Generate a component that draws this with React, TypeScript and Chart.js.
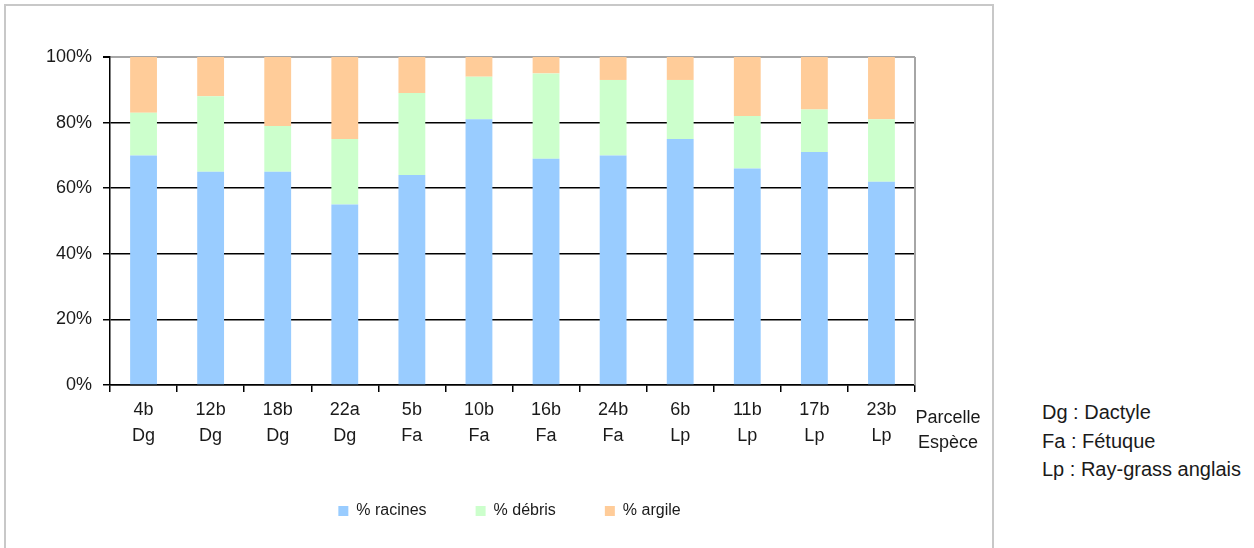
import React, { useEffect, useRef } from "react";
import { Chart, registerables } from "chart.js";

Chart.register(...registerables);

const parcelles = ["4b", "12b", "18b", "22a", "5b", "10b", "16b", "24b", "6b", "11b", "17b", "23b"];
const especes = ["Dg", "Dg", "Dg", "Dg", "Fa", "Fa", "Fa", "Fa", "Lp", "Lp", "Lp", "Lp"];
const racines = [70, 65, 65, 55, 64, 81, 69, 70, 75, 66, 71, 62];
const debris = [13, 23, 14, 20, 25, 13, 26, 23, 18, 16, 13, 19];
const argile = [17, 12, 21, 25, 11, 6, 5, 7, 7, 18, 16, 19];
const yTicks = [0, 20, 40, 60, 80, 100];
const seriesNames = ["% racines", "% débris", "% argile"];
const axisTitle = ["Parcelle", "Espèce"];
const notes = ["Dg : Dactyle", "Fa : Fétuque", "Lp : Ray-grass anglais"];

const FONT = "'Liberation Sans', Arial, sans-serif";

export default function App() {
  const ref = useRef<HTMLCanvasElement>(null);

  useEffect(() => {
    if (!ref.current) return;
    const sidePlugin = {
      id: "side",
      afterLayout(chart: any) {
        if (chart.legend) {
          chart.legend.left += 52;
          chart.legend.right += 52;
        }
      },
      afterDraw(chart: any) {
        const { ctx, chartArea } = chart;
        ctx.save();
        ctx.strokeStyle = "#a6a6a6";
        ctx.lineWidth = 2;
        ctx.beginPath();
        ctx.moveTo(chartArea.right, chartArea.top);
        ctx.lineTo(chartArea.right, chartArea.bottom);
        ctx.stroke();
        ctx.fillStyle = "#1a1a1a";
        ctx.font = `18px ${FONT}`;
        ctx.textAlign = "center";
        ctx.textBaseline = "middle";
        ctx.fillText(axisTitle[0], chartArea.right + 33, chartArea.bottom + 33);
        ctx.fillText(axisTitle[1], chartArea.right + 33, chartArea.bottom + 58);
        ctx.restore();
      },
    };
    const chart = new Chart(ref.current, {
      type: "bar",
      data: {
        labels: parcelles.map((p, i) => [p, especes[i]]),
        datasets: [
          { label: seriesNames[0], data: racines, backgroundColor: "#99ccff" },
          { label: seriesNames[1], data: debris, backgroundColor: "#ccffcc" },
          { label: seriesNames[2], data: argile, backgroundColor: "#ffcc99" },
        ],
      },
      options: {
        responsive: false,
        animation: false,
        devicePixelRatio: 1,
        layout: { padding: { left: 0, right: 107, top: 57, bottom: 19 } },
        datasets: { bar: { barPercentage: 0.4, categoryPercentage: 1 } },
        plugins: {
          tooltip: { enabled: false },
          legend: {
            position: "bottom",
            labels: {
              boxWidth: 10,
              boxHeight: 10,
              padding: 49,
              color: "#1a1a1a",
              font: { family: FONT, size: 16 },
            },
          },
        },
        scales: {
          x: {
            stacked: true,
            afterFit: (s: any) => {
              s.height = 69;
            },
            grid: {
              drawOnChartArea: false,
              drawTicks: true,
              tickLength: 7,
              color: "#000",
              lineWidth: 1.5,
            },
            border: { color: "#000", width: 1.5 },
            ticks: {
              autoSkip: false,
              maxRotation: 0,
              padding: 5,
              color: "#1a1a1a",
              font: { family: FONT, size: 18, lineHeight: 1.45 },
            },
          },
          y: {
            stacked: true,
            min: 0,
            max: 100,
            afterFit: (s: any) => {
              s.width = 110;
            },
            afterBuildTicks: (s: any) => {
              s.ticks = yTicks.map((v) => ({ value: v }));
            },
            grid: {
              color: (c: any) => (c.tick && c.tick.value === 100 ? "#a6a6a6" : "#000"),
              lineWidth: (c: any) => (c.tick && c.tick.value === 100 ? 2 : 1.5),
              tickColor: "#000",
              tickLength: 7,
            },
            border: { color: "#000", width: 1.5 },
            ticks: {
              padding: 11,
              color: "#1a1a1a",
              font: { family: FONT, size: 18 },
              callback: (v: any) => `${v}%`,
            },
          },
        },
      },
      plugins: [sidePlugin],
    });
    return () => chart.destroy();
  }, []);

  return (
    <div
      style={{
        position: "absolute",
        left: 0,
        top: 0,
        width: 1254,
        height: 548,
        overflow: "hidden",
        background: "#fff",
        fontFamily: FONT,
      }}
    >
      <div
        style={{
          position: "absolute",
          left: 4,
          top: 4,
          width: 990,
          height: 600,
          boxSizing: "border-box",
          border: "2px solid #c8c8c8",
        }}
      />
      <canvas
        ref={ref}
        width={1022}
        height={548}
        style={{ position: "absolute", left: 0, top: 0, width: 1022, height: 548 }}
      />
      <div
        style={{
          position: "absolute",
          left: 1042,
          top: 398,
          fontSize: 20,
          lineHeight: "28.5px",
          color: "#1a1a1a",
          whiteSpace: "nowrap",
        }}
      >
        {notes.map((n) => (
          <div key={n}>{n}</div>
        ))}
      </div>
    </div>
  );
}
